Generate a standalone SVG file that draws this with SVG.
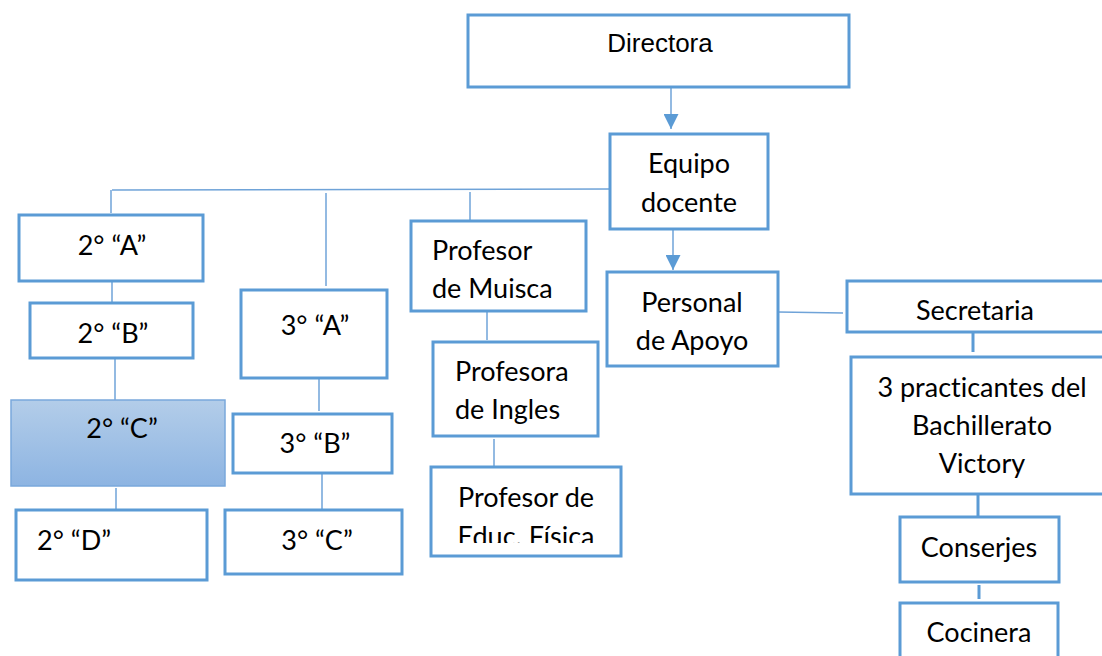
<svg xmlns="http://www.w3.org/2000/svg" width="1102" height="656" viewBox="0 0 1102 656">
<style>
.box{fill:#fff;stroke:#5b9bd5;stroke-width:3}
.ln{stroke:#6fa3d8;stroke-width:1.5;fill:none}
.lnb{stroke:#5b9bd5;stroke-width:3;fill:none}
.t{font-family:Lato,"Open Sans",sans-serif;font-size:27px;fill:#000;font-variant-ligatures:none}
.a{font-family:"Liberation Sans",Arial,sans-serif;font-size:26px;fill:#000}
.c{text-anchor:middle}
</style>
<defs>
<linearGradient id="g" x1="0" y1="0" x2="0" y2="1">
<stop offset="0" stop-color="#b3cde9"/>
<stop offset="1" stop-color="#8db4e2"/>
</linearGradient>
<marker id="ah" markerUnits="userSpaceOnUse" markerWidth="16" markerHeight="15" refX="15" refY="7.5" orient="auto">
<path d="M0,0 L15,7.5 L0,15 Z" fill="#5b9bd5"/>
</marker>
<clipPath id="clipEF"><rect x="431" y="467" width="190" height="76"/></clipPath>
</defs>
<g id="connectors">
<line class="ln" x1="671" y1="87" x2="671" y2="129" marker-end="url(#ah)"/>
<line class="ln" x1="673" y1="229" x2="673" y2="270" marker-end="url(#ah)"/>
<line class="ln" x1="112" y1="190" x2="610" y2="189"/>
<line class="ln" x1="111" y1="190" x2="111" y2="213"/>
<line class="ln" x1="326" y1="193" x2="326" y2="286"/>
<line class="ln" x1="470" y1="192" x2="470" y2="220"/>
<line class="ln" x1="112" y1="281" x2="112" y2="302"/>
<line class="ln" x1="115" y1="358" x2="115" y2="400"/>
<line class="ln" x1="116" y1="488" x2="116" y2="509"/>
<line class="ln" x1="319" y1="378" x2="319" y2="411"/>
<line class="ln" x1="322" y1="473" x2="322" y2="510"/>
<line class="ln" x1="487" y1="311" x2="487" y2="340"/>
<line class="ln" x1="494" y1="439" x2="494" y2="466"/>
<line class="ln" x1="778" y1="312" x2="843" y2="313"/>
<line class="lnb" x1="973" y1="332" x2="973" y2="352"/>
<line class="lnb" x1="978" y1="494" x2="978" y2="517"/>
<line class="lnb" x1="979" y1="585" x2="979" y2="599"/>
</g>
<g id="directora">
<rect class="box" x="468" y="15" width="381" height="72"/>
<text class="a c" x="660" y="52">Directora</text>
</g>
<g id="equipo">
<rect class="box" x="610" y="134" width="158" height="95"/>
<text class="t c" x="689" y="173">Equipo</text>
<text class="t c" x="689" y="212">docente</text>
</g>
<g id="n2a">
<rect class="box" x="19" y="215" width="184" height="66"/>
<text class="t c" x="112" y="255">2° “A”</text>
</g>
<g id="n2b">
<rect class="box" x="30" y="303" width="163" height="55"/>
<text class="t c" x="113" y="343">2° “B”</text>
</g>
<g id="n2c">
<rect x="11" y="400" width="214" height="86" fill="url(#g)" stroke="#7aa8db" stroke-width="1.5"/>
<text class="t c" x="122" y="438">2° “C”</text>
</g>
<g id="n2d">
<rect class="box" x="16" y="510" width="191" height="70"/>
<text class="t" x="37" y="550">2° “D”</text>
</g>
<g id="n3a">
<rect class="box" x="241" y="290" width="146" height="88"/>
<text class="t c" x="315" y="335">3° “A”</text>
</g>
<g id="n3b">
<rect class="box" x="233" y="414" width="159" height="59"/>
<text class="t c" x="315" y="453">3° “B”</text>
</g>
<g id="n3c">
<rect class="box" x="225" y="510" width="177" height="64"/>
<text class="t c" x="317" y="550">3° “C”</text>
</g>
<g id="musica">
<rect class="box" x="411" y="221" width="175" height="90"/>
<text class="t" x="432" y="260">Profesor</text>
<text class="t" x="432" y="298">de Muisca</text>
</g>
<g id="ingles">
<rect class="box" x="433" y="342" width="165" height="94"/>
<text class="t" x="455" y="381">Profesora</text>
<text class="t" x="455" y="419">de Ingles</text>
</g>
<g id="fisica">
<rect class="box" x="431" y="467" width="190" height="89"/>
<g clip-path="url(#clipEF)">
<text class="t c" x="526" y="507">Profesor de</text>
<text class="t c" x="526" y="546">Educ. Física</text>
</g>
</g>
<g id="personal">
<rect class="box" x="607" y="272" width="171" height="94"/>
<text class="t c" x="692" y="312">Personal</text>
<text class="t c" x="692" y="350">de Apoyo</text>
</g>
<g id="secretaria">
<rect class="box" x="847" y="281" width="260" height="51"/>
<text class="t c" x="975" y="320">Secretaria</text>
</g>
<g id="practicantes">
<rect class="box" x="851" y="357" width="260" height="137"/>
<text class="t c" x="982" y="397">3 practicantes del</text>
<text class="t c" x="982" y="435">Bachillerato</text>
<text class="t c" x="982" y="473">Victory</text>
</g>
<g id="conserjes">
<rect class="box" x="900" y="517" width="159" height="65"/>
<text class="t c" x="979" y="557">Conserjes</text>
</g>
<g id="cocinera">
<rect class="box" x="900" y="603" width="158" height="60"/>
<text class="t c" x="979" y="642">Cocinera</text>
</g>
</svg>
